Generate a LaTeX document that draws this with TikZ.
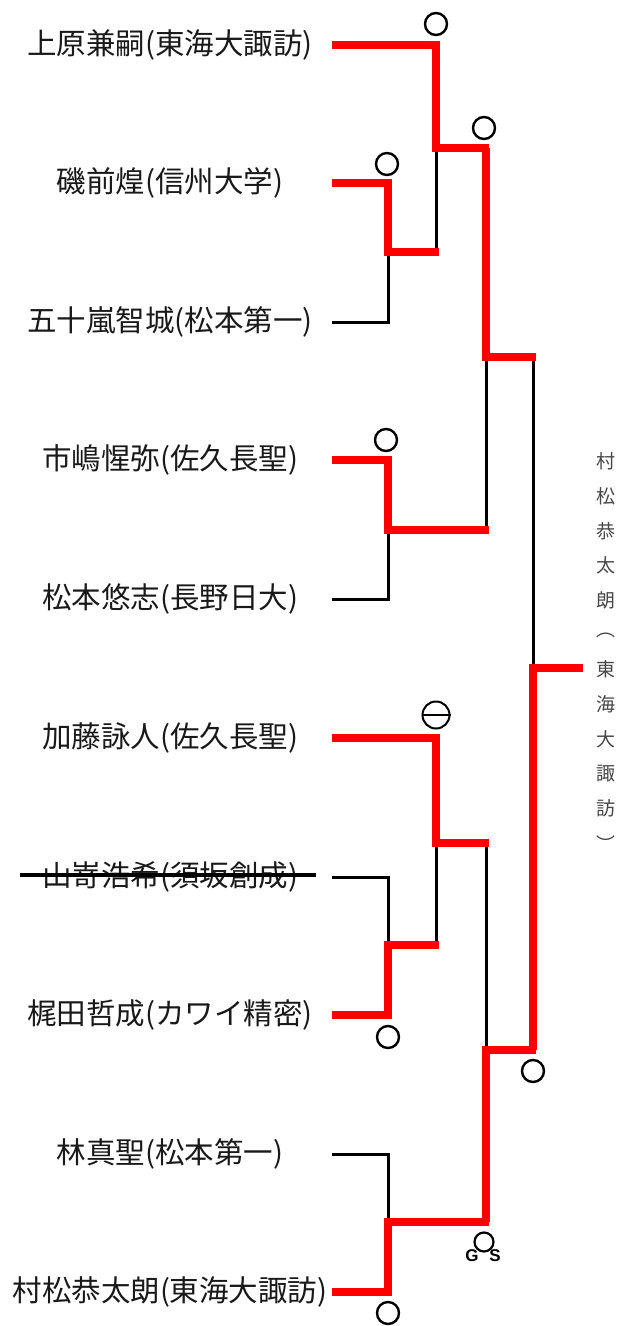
\documentclass[tikz,border=0pt]{standalone}
\usepackage{fontspec}
\setmainfont{Noto Sans CJK JP}
\newfontfamily\gsfont{Liberation Sans}
\usetikzlibrary{positioning}

\begin{document}
\begin{tikzpicture}[
    x=1pt, y=-1pt,
    player/.style={inner sep=0pt, text=black!90, font=\fontsize{29.5}{29.5}\selectfont},
    vchar/.style={inner sep=0pt, text=black!72, font=\fontsize{19}{19}\selectfont},
    win/.style={draw=red, line width=8.5pt, line join=miter, shorten >=-3pt},
    lose/.style={draw=black, line width=3pt, line join=miter},
    maru/.style={circle, draw, line width=2.4pt, inner sep=0pt, minimum size=22pt},
    gs/.style={inner sep=0pt, font=\gsfont\bfseries\fontsize{17}{17}\selectfont},
    strike/.style={line width=3.2pt}
]
    \useasboundingbox (0,0) rectangle (629,1326);

    % players
    \node[player] (p1) at (170,45) {上原兼嗣(東海大諏訪)};
    \node[player] (p2) at (170,183) {磯前煌(信州大学)};
    \node[player] (p3) at (170,322) {五十嵐智城(松本第一)};
    \node[player] (p4) at (170,460) {市嶋惺弥(佐久長聖)};
    \node[player] (p5) at (170,599) {松本悠志(長野日大)};
    \node[player] (p6) at (170,738) {加藤詠人(佐久長聖)};
    \node[player] (p7) at (170,877) {山嵜浩希(須坂創成)};
    \node[player] (p8) at (170,1015) {梶田哲成(カワイ精密)};
    \node[player] (p9) at (170,1154) {林真聖(松本第一)};
    \node[player] (p10) at (170,1292) {村松恭太朗(東海大諏訪)};
    \draw[strike] ([xshift=-22pt,yshift=2pt]p7.west) -- ([xshift=18pt,yshift=2pt]p7.east);

    % line starts
    \foreach \i/\y in {1/45,2/183,3/322,4/460,5/599,6/738,7/877,8/1015,9/1154,10/1292}
        \coordinate (a\i) at (332,\y);

    % matches
    \coordinate (m23) at (388,252);
    \coordinate (m1) at (436,148);
    \coordinate (m45) at (388,530);
    \coordinate (sf1) at (486,357);
    \coordinate (m78) at (388,945);
    \coordinate (m6) at (436,843);
    \coordinate (m910) at (388,1222);
    \coordinate (sf2) at (486,1050);
    \coordinate (fin) at (533,668);
    \coordinate (champ) at (580,668);

    % losers
    \draw[lose] (a3) -| (m23);
    \draw[lose] (m23 -| m1) -- (m1);
    \draw[lose] (a5) -| (m45);
    \draw[lose] (m45 -| sf1) -- (sf1);
    \draw[lose] (a7) -| (m78);
    \draw[lose] (m78 -| m6) -- (m6);
    \draw[lose] (a9) -| (m910);
    \draw[lose] (m6 -| sf2) -- (sf2);
    \draw[lose] (sf1 -| fin) -- (fin);

    % winners
    \draw[win] (a2) -| (m23) -- (m23 -| m1);
    \draw[win] (a1) -| (m1) -- (m1 -| sf1);
    \draw[win] (a4) -| (m45) -- (m45 -| sf1);
    \draw[win] (m1 -| sf1) -- (sf1) -- (sf1 -| fin);
    \draw[win] (a8) -| (m78) -- (m78 -| m6);
    \draw[win] (a6) -| (m6) -- (m6 -| sf2);
    \draw[win] (a10) -| (m910) -- (m910 -| sf2);
    \draw[win] (m910 -| sf2) -- (sf2) -- (sf2 -| fin);
    \draw[win] (sf2 -| fin) -- (fin) -- (champ);

    % results
    \node[maru] (r1) at (436,24) {};
    \node[maru] (r2) at (387,164) {};
    \node[maru] (r3) at (484,128) {};
    \node[maru] (r4) at (386,440) {};
    \node[maru, minimum size=27pt, line width=2pt] (r5) at (436,715) {};
    \draw[line width=1.8pt] (r5.west) -- (r5.east);
    \node[maru] (r6) at (388,1037) {};
    \node[maru] (r7) at (533,1071) {};
    \node[maru, minimum size=19pt, line width=2.2pt] (r8) at (484,1242) {};
    \node[gs] (g) at (472,1256) {G};
    \node[gs] (s) at (495,1256) {S};
    \node[maru] (r9) at (388,1313) {};

    % champion
    \foreach \c [count=\i from 0] in {村,松,恭,太,朗,︵,東,海,大,諏,訪,︶}
        \node[vchar] (v\i) at (606,{461.5+34.7*\i}) {\c};
\end{tikzpicture}
\end{document}
